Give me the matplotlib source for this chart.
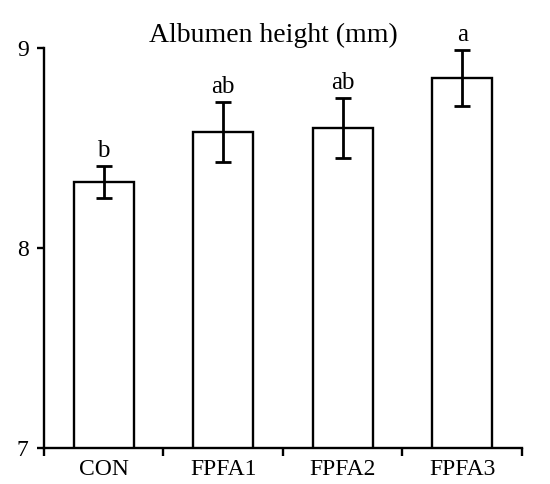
import matplotlib.pyplot as plt
import numpy as np

# data
groups = ['CON', 'FPFA1', 'FPFA2', 'FPFA3']
means = [8.33, 8.58, 8.60, 8.85]
errors = [0.08, 0.15, 0.15, 0.14]
letters = ['b', 'ab', 'ab', 'a']

plt.rcParams['font.family'] = ['Liberation Serif', 'DejaVu Serif']

fig = plt.figure(figsize=(5.5, 4.84), dpi=100)
ax = fig.add_axes([0.08, 0.0744, 0.869, 0.8264])

x = np.arange(len(groups))
ax.bar(x, means, width=0.5, color='white', edgecolor='black', linewidth=1.7, zorder=2)
ax.errorbar(x, means, yerr=errors, fmt='none', ecolor='black', elinewidth=2,
            capsize=5.5, capthick=2, zorder=3)

for xi, m, e, lab in zip(x, means, errors, letters):
    ax.annotate(lab, (xi, m + e), xytext=(0, 3), textcoords='offset points',
                ha='center', va='bottom', fontsize=18)

ax.set_xlim(-0.5, 3.5)
ax.set_ylim(7, 9)
ax.set_yticks([7, 8, 9])
ax.set_xticks(x)
ax.set_xticklabels(groups)
ax.set_xticks(np.arange(-0.5, 3.6, 1), minor=True)
ax.tick_params(axis='x', which='major', length=0, labelsize=17, pad=8)
ax.tick_params(axis='x', which='minor', length=6, width=1.7, direction='out')
ax.tick_params(axis='y', length=5, width=1.7, labelsize=17, pad=6)

for s in ['top', 'right']:
    ax.spines[s].set_visible(False)
for s in ['left', 'bottom']:
    ax.spines[s].set_linewidth(1.7)

ax.text(0.48, 1.0, 'Albumen height (mm)', transform=ax.transAxes,
        ha='center', va='bottom', fontsize=20)

fig.savefig('out.png', dpi=100)
